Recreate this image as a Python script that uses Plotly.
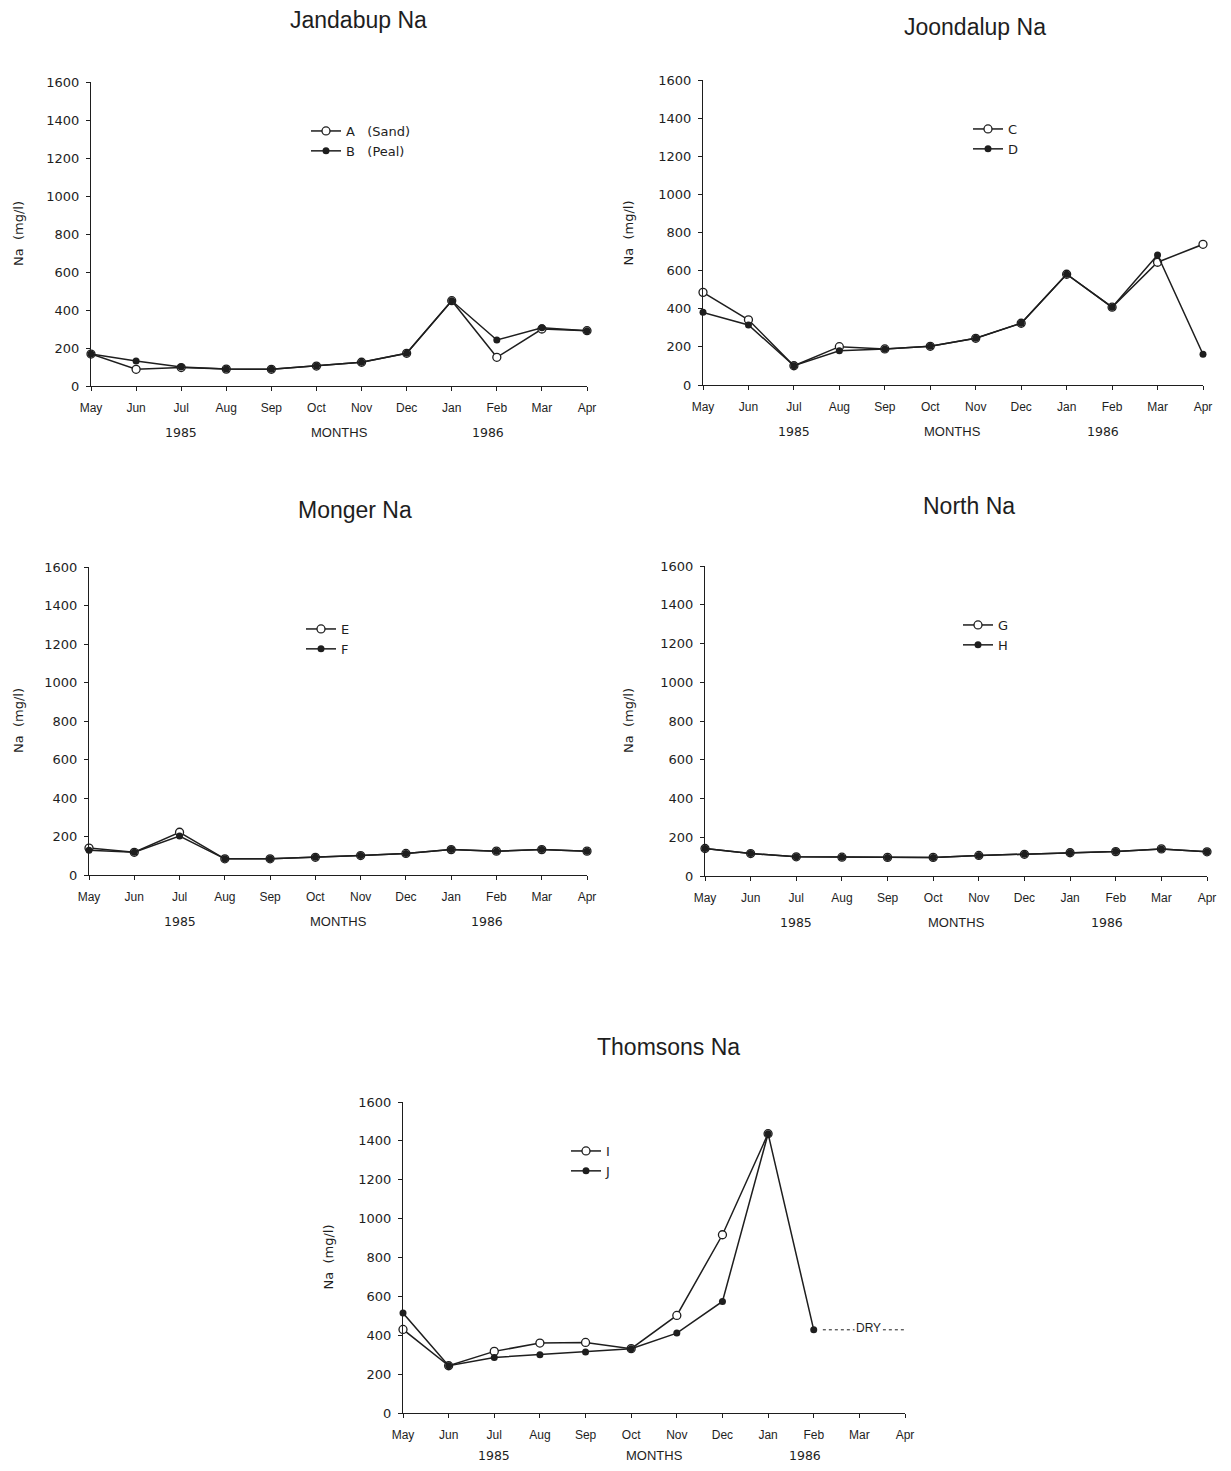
import plotly.graph_objects as go

# target picture size and the page offset (body margin) of the rendered figure
W_REF, H_REF = 1231, 1471
OFF_X, OFF_Y = 8, 8
FW, FH = W_REF - 2 * OFF_X, H_REF - 2 * OFF_Y


def px_x(v):
    return (v - OFF_X) / FW


def px_y(v):
    return 1 - (v - OFF_Y) / FH


months = ["May", "Jun", "Jul", "Aug", "Sep", "Oct", "Nov", "Dec", "Jan", "Feb", "Mar", "Apr"]
y_ticks = [0, 200, 400, 600, 800, 1000, 1200, 1400, 1600]

# Jandabup
jand_A = [168, 88, 97, 89, 88, 105, 125, 172, 449, 151, 300, 291]
jand_B = [168, 131, 100, 89, 88, 105, 125, 172, 449, 242, 307, 291]
# Joondalup
joon_C = [486, 342, 101, 201, 189, 203, 245, 324, 581, 408, 644, 738]
joon_D = [381, 315, 101, 180, 189, 203, 245, 324, 581, 408, 682, 161]
# Monger
mong_E = [140, 118, 222, 84, 84, 92, 101, 112, 132, 124, 132, 124]
mong_F = [129, 118, 202, 84, 84, 92, 101, 112, 132, 124, 132, 124]
# North
north_G = [142, 116, 99, 97, 96, 96, 106, 112, 120, 126, 140, 125]
north_H = [142, 116, 99, 97, 96, 96, 106, 112, 120, 126, 140, 125]
# Thomsons
thom_I = [430, 243, 317, 360, 363, 331, 502, 917, 1437, None, None, None]
thom_J = [514, 243, 286, 300, 314, 331, 411, 574, 1437, 428, None, None]

panels = [
    dict(title="Jandabup Na", names=["A   (Sand)", "B   (Peal)"], data=[jand_A, jand_B],
         px=(91, 587), py=(386, 82), title_pos=(359, 20), leg=(306, 116), ytitle_dx=-73, yr_dy=-47),
    dict(title="Joondalup Na", names=["C", "D"], data=[joon_C, joon_D],
         px=(703, 1203), py=(385, 80), title_pos=(975, 27), leg=(968, 114), ytitle_dx=-75, yr_dy=-47),
    dict(title="Monger Na", names=["E", "F"], data=[mong_E, mong_F],
         px=(89, 587), py=(875, 567), title_pos=(355, 510), leg=(301, 614), ytitle_dx=-71, yr_dy=-46),
    dict(title="North Na", names=["G", "H"], data=[north_G, north_H],
         px=(705, 1207), py=(876, 566), title_pos=(969, 506), leg=(958, 610), ytitle_dx=-77, yr_dy=-46),
    dict(title="Thomsons Na", names=["I", "J"], data=[thom_I, thom_J],
         px=(403, 905), py=(1413, 1102), title_pos=(668, 1047), leg=(566, 1136), ytitle_dx=-75, yr_dy=-42),
]

FONT = "Liberation Sans, Arial, sans-serif"
NUMFONT = "DejaVu Sans, sans-serif"
INK = "#1e1e1e"

fig = go.Figure()
layout = dict(
    width=FW, height=FH, margin=dict(l=0, r=0, t=0, b=0, autoexpand=False),
    paper_bgcolor="white", plot_bgcolor="white",
    font=dict(family=FONT, color=INK, size=13),
    annotations=[], shapes=[],
)

xs = list(range(len(months)))

for i, p in enumerate(panels):
    n = i + 1
    xa = "x" if n == 1 else f"x{n}"
    ya = "y" if n == 1 else f"y{n}"
    lg = "legend" if n == 1 else f"legend{n}"
    x0, x1 = p["px"]
    y0, y1 = p["py"]
    layout[f"xaxis{'' if n == 1 else n}"] = dict(
        domain=[px_x(x0), px_x(x1)], range=[0, 11], anchor=ya,
        tickvals=xs, ticktext=months, showline=True, linecolor=INK, linewidth=1.3,
        ticks="outside", ticklen=4, tickcolor=INK, showgrid=False, zeroline=False,
        ticklabelstandoff=6,
        tickfont=dict(size=12, family=FONT, color=INK), fixedrange=True,
    )
    layout[f"yaxis{'' if n == 1 else n}"] = dict(
        domain=[px_y(y0), px_y(y1)], range=[0, 1600], anchor=xa,
        tickvals=y_ticks, showline=True, linecolor=INK, linewidth=1.3,
        ticks="outside", ticklen=4, tickcolor=INK, showgrid=False, zeroline=False,
        ticklabelstandoff=4,
        tickfont=dict(size=13, family=NUMFONT, color=INK), fixedrange=True,
    )
    lx, ly = p["leg"]
    layout[lg] = dict(
        x=px_x(lx), y=px_y(ly), xanchor="left", yanchor="top",
        bgcolor="rgba(0,0,0,0)", borderwidth=0, itemwidth=30,
        font=dict(size=13, family=NUMFONT, color=INK), tracegroupgap=0,
    )
    open_vals, filled_vals = p["data"]
    fig.add_trace(go.Scatter(
        x=xs, y=open_vals, name=p["names"][0], mode="lines+markers",
        line=dict(color=INK, width=1.5),
        marker=dict(symbol="circle", size=8, color="white", line=dict(color=INK, width=1.3)),
        xaxis=xa, yaxis=ya, legend=lg, connectgaps=False, cliponaxis=False,
    ))
    fig.add_trace(go.Scatter(
        x=xs, y=filled_vals, name=p["names"][1], mode="lines+markers",
        line=dict(color=INK, width=1.5),
        marker=dict(symbol="circle", size=7, color=INK),
        xaxis=xa, yaxis=ya, legend=lg, connectgaps=False, cliponaxis=False,
    ))
    tx, ty = p["title_pos"]
    layout["annotations"].append(dict(
        text=p["title"], x=px_x(tx), y=px_y(ty), xref="paper", yref="paper",
        xanchor="center", yanchor="middle", showarrow=False,
        font=dict(size=23, family=FONT, color=INK),
    ))
    layout["annotations"].append(dict(
        text="Na  (mg/l)", x=0, y=0.5, xref=f"{xa} domain", yref=f"{ya} domain",
        xshift=p["ytitle_dx"], textangle=-90, xanchor="center", yanchor="middle",
        showarrow=False, font=dict(size=13, family=NUMFONT, color=INK),
    ))
    for lab, xv, f, s in [("1985", 2, NUMFONT, 12.5), ("MONTHS", 5.5, FONT, 13), ("1986", 8.8, NUMFONT, 12.5)]:
        layout["annotations"].append(dict(
            text=lab, x=xv, y=0, xref=xa, yref=f"{ya} domain", yshift=p["yr_dy"],
            xanchor="center", yanchor="middle", showarrow=False,
            font=dict(size=s, family=f, color=INK),
        ))

# DRY marker for Thomsons (J dried after Feb)
dry_idx = 9
dry_level = thom_J[dry_idx]
fig.add_trace(go.Scatter(
    x=[dry_idx + 0.2, 11.1], y=[dry_level, dry_level], mode="lines",
    line=dict(color=INK, width=1, dash="dot"), xaxis="x5", yaxis="y5",
    showlegend=False, hoverinfo="skip", cliponaxis=False,
))
layout["annotations"].append(dict(
    text="DRY", x=10.2, y=dry_level, xref="x5", yref="y5", yshift=2,
    xanchor="center", yanchor="middle", showarrow=False, bgcolor="white",
    font=dict(size=12, family=FONT, color=INK),
))

fig.update_layout(**layout)
fig.write_html("out.html")
